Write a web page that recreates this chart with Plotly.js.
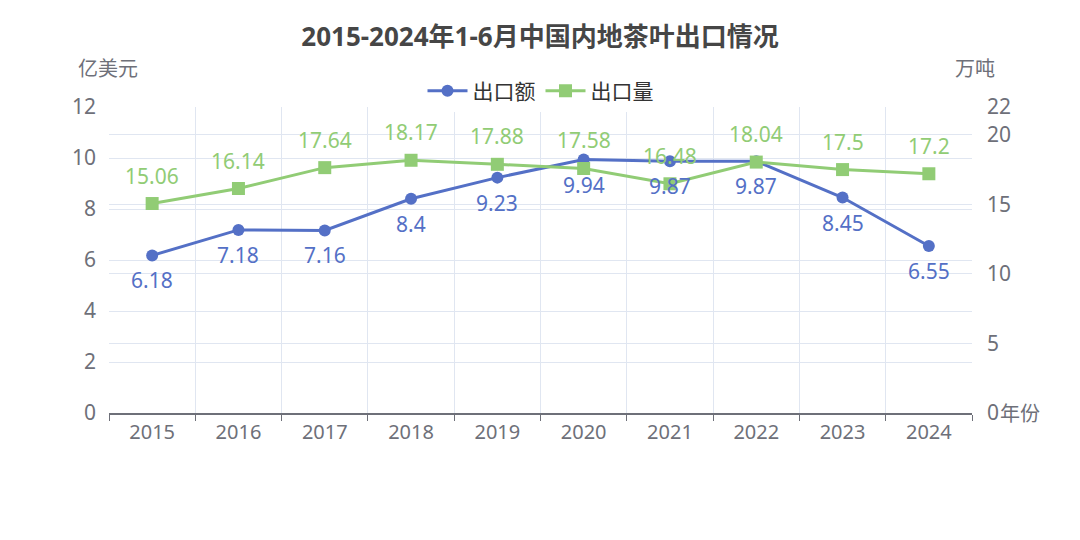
<!DOCTYPE html>
<html>
<head>
<meta charset="utf-8">
<script src="https://cdn.plot.ly/plotly-3.0.1.min.js"></script>
<style>
	body { margin: 0; background: #fff; }
	#chart { width: 1080px; height: 540px; }
</style>
</head>
<body>
<div id="chart"></div>
<script>
var years = [ '2015', '2016', '2017', '2018', '2019', '2020', '2021', '2022', '2023', '2024' ];
var exportValue = [ 6.18, 7.18, 7.16, 8.4, 9.23, 9.94, 9.87, 9.87, 8.45, 6.55 ];
var exportVolume = [ 15.06, 16.14, 17.64, 18.17, 17.88, 17.58, 16.48, 18.04, 17.5, 17.2 ];
var leftTicks = [ 0, 2, 4, 6, 8, 10, 12 ];
var rightTicks = [ 0, 5, 10, 15, 20, 22 ];

var font = '"Noto Sans", "Noto Sans CJK SC", sans-serif';
var blue = '#5470c6';
var green = '#91cc75';
var grid = '#e0e6f1';
var axisText = '#6e7079';

function makeTrace(y, name, color, symbol, size, axis) {
	return {
		x : years,
		y : y,
		name : name,
		type : 'scatter',
		mode : 'lines+markers',
		yaxis : axis,
		line : { color : color, width : 3 },
		marker : { color : color, symbol : symbol, size : size },
		hoverinfo : 'x+y'
	};
}

// category axis: annotations take the category index
function makeLabels(y, color, axis, shift) {
	return y.map(function(v, i) {
		return {
			x : i,
			y : v,
			xref : 'x',
			yref : axis,
			text : String(v),
			showarrow : false,
			yshift : shift,
			font : { family : font, size : 21, color : color }
		};
	});
}

function axisName(text, x, y) {
	return {
		text : text, xref : 'paper', yref : 'paper', x : x, y : y,
		xanchor : 'center', yanchor : 'middle',
		showarrow : false, font : { family : font, size : 20, color : axisText }
	};
}

var data = [
	makeTrace(exportValue, '出口额', blue, 'circle', 12, 'y'),
	makeTrace(exportVolume, '出口量', green, 'square', 13, 'y2')
];

var annotations = makeLabels(exportValue, blue, 'y', -25)
	.concat(makeLabels(exportVolume, green, 'y2', 28))
	.concat([
		axisName('亿美元', -0.001, 1.125),
		axisName('万吨', 1.004, 1.125),
		axisName('年份', 1.0556, 0)
	]);

var layout = {
	title : {
		text : '<b>2015-2024年1-6月中国内地茶叶出口情况</b>',
		x : 0.5, y : 0.931, xanchor : 'center', yanchor : 'middle',
		font : { family : font, size : 26, color : '#464646' }
	},
	font : { family : font, color : axisText },
	margin : { l : 109, r : 108, t : 107, b : 127 },
	paper_bgcolor : '#fff',
	plot_bgcolor : '#fff',
	showlegend : true,
	legend : {
		orientation : 'h', x : 0.5, xanchor : 'center', y : 1.052, yanchor : 'middle',
		itemwidth : 40,
		font : { family : font, size : 21, color : '#333' }
	},
	xaxis : {
		type : 'category',
		range : [ -0.5, 9.5 ],
		tickson : 'boundaries',
		showgrid : true, gridcolor : grid,
		ticks : 'outside', ticklen : 6, tickcolor : axisText,
		showline : true, linecolor : axisText, linewidth : 1.5,
		tickfont : { family : font, size : 20, color : axisText },
		tickangle : 0,
		zeroline : false
	},
	yaxis : {
		range : [ 0, 12 ], tickvals : leftTicks,
		showgrid : true, gridcolor : grid, zeroline : false,
		tickfont : { family : font, size : 21, color : axisText },
		ticklabelstandoff : 12
	},
	yaxis2 : {
		range : [ 0, 22 ], tickvals : rightTicks,
		overlaying : 'y', side : 'right',
		showgrid : true, gridcolor : grid, zeroline : false,
		tickfont : { family : font, size : 21, color : axisText },
		ticklabelstandoff : 14
	},
	annotations : annotations
};

Plotly.newPlot('chart', data, layout, { displayModeBar : false });
</script>
</body>
</html>
